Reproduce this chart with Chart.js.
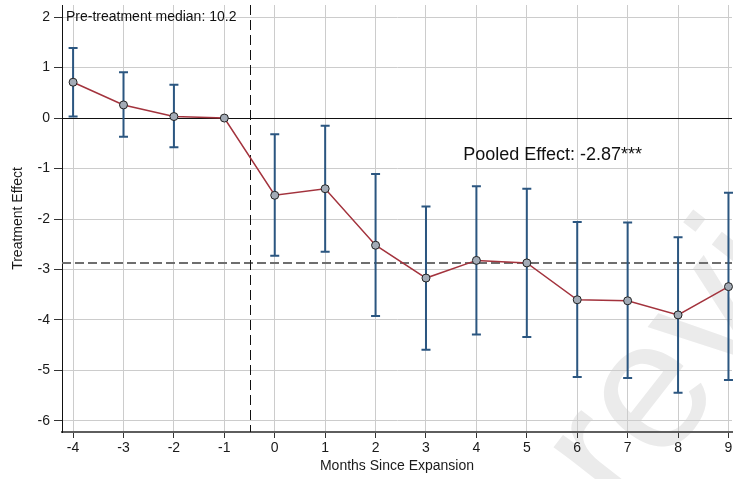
<!DOCTYPE html>
<html>
<head>
<meta charset="utf-8">
<script src="https://cdn.jsdelivr.net/npm/chart.js@4.4.0/dist/chart.umd.min.js"></script>
<style>
  html, body { margin: 0; padding: 0; background: #fff; }
  #wrap { width: 733px; height: 479px; }
</style>
</head>
<body>
<div id="wrap"><canvas id="grafico"></canvas></div>
<script>
// event study: months relative to expansion
const meses = [-4, -3, -2, -1, 0, 1, 2, 3, 4, 5, 6, 7, 8, 9];
const efeito = [0.71, 0.26, 0.03, 0, -1.53, -1.40, -2.52, -3.17, -2.82, -2.87, -3.60, -3.62, -3.90, -3.34];
const icSup = [1.39, 0.91, 0.66, null, -0.32, -0.15, -1.11, -1.75, -1.35, -1.40, -2.06, -2.07, -2.36, -1.48];
const icInf = [0.03, -0.37, -0.58, null, -2.73, -2.65, -3.92, -4.59, -4.29, -4.34, -5.13, -5.15, -5.44, -5.19];
const efeitoAgrupado = -2.87;
const medianaPre = "10.2";
const inicioTratamento = -0.5;

const fonte = "'Liberation Sans', Arial, sans-serif";

// marca d'agua clara ao fundo
const marcaDagua = {
  id: 'marcaDagua',
  beforeDraw(chart) {
    const ctx = chart.ctx;
    ctx.save();
    ctx.translate(623, 517);
    ctx.rotate(-52 * Math.PI / 180);
    ctx.font = "185px " + fonte;
    ctx.fillStyle = "#ebebeb";
    ctx.textAlign = "left";
    ctx.textBaseline = "alphabetic";
    ctx.fillText("review", 0, 0);
    ctx.restore();
  }
};

// linhas de referencia e barras de erro, por baixo da serie
const extras = {
  id: 'extras',
  beforeDatasetsDraw(chart) {
    const ctx = chart.ctx;
    const x = chart.scales.x, y = chart.scales.y;
    const area = chart.chartArea;
    ctx.save();

    // linha do zero
    ctx.strokeStyle = "#111";
    ctx.lineWidth = 1;
    ctx.beginPath();
    const y0 = Math.round(y.getPixelForValue(0)) + 0.5;
    ctx.moveTo(area.left, y0);
    ctx.lineTo(area.right, y0);
    ctx.stroke();

    // efeito agrupado
    ctx.strokeStyle = "#6e6e6e";
    ctx.lineWidth = 2;
    ctx.setLineDash([9, 4]);
    ctx.beginPath();
    const yp = y.getPixelForValue(efeitoAgrupado);
    ctx.moveTo(area.left, yp);
    ctx.lineTo(area.right, yp);
    ctx.stroke();

    // inicio do tratamento
    ctx.strokeStyle = "#111";
    ctx.lineWidth = 1;
    ctx.setLineDash([10, 5]);
    ctx.beginPath();
    const xt = Math.round(x.getPixelForValue(inicioTratamento)) + 0.5;
    ctx.moveTo(xt, area.top);
    ctx.lineTo(xt, area.bottom);
    ctx.stroke();
    ctx.setLineDash([]);

    // intervalos de confianca
    ctx.strokeStyle = "#2b5680";
    ctx.lineWidth = 2;
    for (let i = 0; i < meses.length; i++) {
      if (icSup[i] === null) continue;
      const px = x.getPixelForValue(meses[i]);
      const pSup = y.getPixelForValue(icSup[i]);
      const pInf = y.getPixelForValue(icInf[i]);
      ctx.beginPath();
      ctx.moveTo(px, pSup);
      ctx.lineTo(px, pInf);
      ctx.moveTo(px - 4.5, pSup);
      ctx.lineTo(px + 4.5, pSup);
      ctx.moveTo(px - 4.5, pInf);
      ctx.lineTo(px + 4.5, pInf);
      ctx.stroke();
    }
    ctx.restore();
  },
  afterDatasetsDraw(chart) {
    const ctx = chart.ctx;
    const x = chart.scales.x, y = chart.scales.y;
    const area = chart.chartArea;
    ctx.save();
    ctx.fillStyle = "#111";
    ctx.textBaseline = "middle";
    ctx.textAlign = "left";
    ctx.font = "14px " + fonte;
    ctx.fillText("Pre-treatment median: " + medianaPre, area.left + 4, area.top + 12);
    ctx.font = "18px " + fonte;
    ctx.fillText("Pooled Effect: " + efeitoAgrupado.toFixed(2) + "***",
      x.getPixelForValue(3.74), y.getPixelForValue(-0.73));
    ctx.restore();
  }
};

const dados = {
  datasets: [{
    label: "Treatment Effect",
    data: meses.map((m, i) => ({ x: m, y: efeito[i] })),
    borderColor: "#a3333d",
    borderWidth: 1.5,
    backgroundColor: "#a3abb6",
    pointBorderColor: "#222",
    pointBorderWidth: 1,
    pointRadius: 4,
    pointHoverRadius: 4,
    tension: 0,
    showLine: true,
    clip: 8
  }]
};

new Chart(document.getElementById("grafico"), {
  type: "scatter",
  data: dados,
  options: {
    responsive: true,
    maintainAspectRatio: false,
    devicePixelRatio: 1,
    animation: false,
    layout: { autoPadding: false, padding: { top: 5, right: 1, left: 0, bottom: 0 } },
    plugins: {
      legend: { display: false },
      tooltip: { enabled: false }
    },
    scales: {
      x: {
        type: "linear",
        min: -4.22,
        max: 9.07,
        ticks: {
          stepSize: 1,
          includeBounds: false,
          color: "#1a1a1a",
          font: { family: fonte, size: 14 },
          padding: 2,
          maxRotation: 0
        },
        grid: { color: "#cccccc", lineWidth: 1, tickColor: "#333", tickLength: 6 },
        border: { color: "#5e5e5e", width: 2 },
        title: {
          display: true,
          text: "Months Since Expansion",
          color: "#1a1a1a",
          font: { family: fonte, size: 14 },
          padding: { top: 0, bottom: 4 }
        },
        afterFit(scale) {
          scale.height = 47;
          scale.paddingLeft = 0;
          scale.paddingRight = 0;
        }
      },
      y: {
        type: "linear",
        min: -6.22,
        max: 2.24,
        ticks: {
          stepSize: 1,
          includeBounds: false,
          color: "#1a1a1a",
          font: { family: fonte, size: 14 },
          padding: 4
        },
        grid: { color: "#cccccc", lineWidth: 1, tickColor: "#333", tickLength: 8 },
        border: { color: "#111", width: 1 },
        title: {
          display: true,
          text: "Treatment Effect",
          color: "#1a1a1a",
          font: { family: fonte, size: 14 },
          padding: { top: 10, bottom: 0 }
        },
        afterFit(scale) {
          scale.width = 62;
          scale.paddingTop = 0;
          scale.paddingBottom = 0;
        }
      }
    }
  },
  plugins: [marcaDagua, extras]
});
</script>
</body>
</html>
